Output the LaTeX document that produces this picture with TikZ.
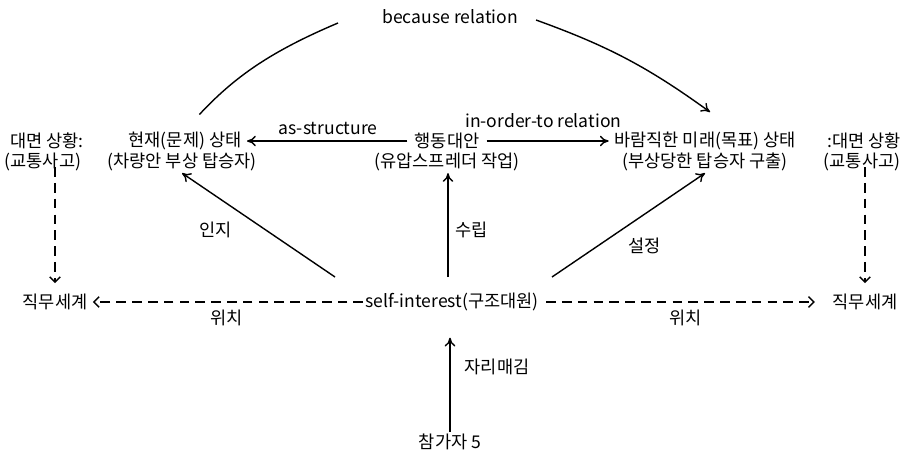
\documentclass[tikz,border=0pt]{standalone}
\usepackage{fontspec}
\setmainfont{Noto Sans CJK KR}
\usetikzlibrary{arrows.meta}

\begin{document}
\begin{tikzpicture}[x=0.02cm, y=-0.02cm,
    lbl/.style={font=\fontsize{10}{12}\selectfont, inner sep=1pt},
    arr/.style={-{To[length=5pt, width=6pt]}, line width=0.8pt},
    darr/.style={-{Straight Barb[length=3pt, width=6pt]}, line width=0.8pt,
        dash pattern=on 5.5pt off 3.5pt}]

    \useasboundingbox (0,0) rectangle (905,453);

    % Define rows (pixel units, y downwards)
    \pgfmathsetmacro{\yTop}{141}
    \pgfmathsetmacro{\ySub}{162}
    \pgfmathsetmacro{\yMid}{302}

    % Title row
    \node[lbl] (because) at (450,17) {because relation};
    \node[lbl] (situL) at (47,\yTop) {대면 상황:};
    \node[lbl] (situLsub) at (43,\ySub) {(교통사고)};
    \node[lbl] (now) at (185,\yTop) {현재(문제) 상태};
    \node[lbl] (nowsub) at (182,\ySub) {(차량안 부상 탑승자)};
    \node[lbl] (action) at (447,\yTop) {행동대안};
    \node[lbl] (actionsub) at (447,\ySub) {(유압스프레더 작업)};
    \node[lbl] (goal) at (705,\yTop) {바람직한 미래(목표) 상태};
    \node[lbl] (goalsub) at (705,\ySub) {(부상당한 탑승자 구출)};
    \node[lbl] (situR) at (864,\yTop) {:대면 상황};
    \node[lbl] (situRsub) at (862,\ySub) {(교통사고)};

    % Middle and bottom row
    \node[lbl] (self) at (452,\yMid) {self-interest(구조대원)};
    \node[lbl] (worldL) at (55,\yMid) {직무세계};
    \node[lbl] (worldR) at (865,\yMid) {직무세계};
    \node[lbl] (part) at (450,442) {참가자 5};

    % Free ends of the connectors
    \coordinate (cogStart) at (335,277);
    \coordinate (planStart) at (448,277);
    \coordinate (setStart) at (552,277);
    \coordinate (becL) at (338,23);
    \coordinate (becR) at (536,20);
    \coordinate (becTip) at (710,112);

    % because relation
    \draw[line width=0.8pt, shorten <=12pt] (now.north) to[bend left=12] (becL);
    \draw[arr] (becR) to[bend left=8] (becTip);

    % Relations between the title nodes
    \draw[arr, shorten <=3pt, shorten >=2pt] (action) -- (now)
        node[lbl, midway, above=2pt] {as-structure};
    \draw[arr, shorten <=3pt, shorten >=2pt] (action) -- (goal)
        node[lbl, midway, above=6pt, xshift=-2] {in-order-to relation};

    % Dashed links to the work world
    \draw[darr, shorten >=5pt] (worldL.north |- situLsub.south)
        ++(0,-6) -- (worldL.north);
    \draw[darr, shorten >=5pt] (worldR.north |- situRsub.south)
        ++(0,-6) -- (worldR.north);
    \draw[darr, shorten >=2pt] (self.west) -- (worldL.east)
        node[lbl, midway, below=3pt] {위치};
    \draw[darr, shorten <=3pt, shorten >=9pt] (self.east) -- (worldR.west)
        node[lbl, midway, below=3pt] {위치};

    % Arrows from self-interest
    \draw[arr] (cogStart) -- (nowsub.south)
        node[lbl, pos=0.45, left=18pt] {인지};
    \draw[arr] (planStart) -- (planStart |- actionsub.south)
        node[lbl, pos=0.45, right=3pt] {수립};
    \draw[arr] (setStart) -- (goalsub.south)
        node[lbl, pos=0.45, below right=3pt] {설정};

    % Participant
    \draw[arr, shorten >=14pt] (part.north) -- (part.north |- self.south)
        node[lbl, pos=0.55, right=7pt] {자리매김};

\end{tikzpicture}
\end{document}
